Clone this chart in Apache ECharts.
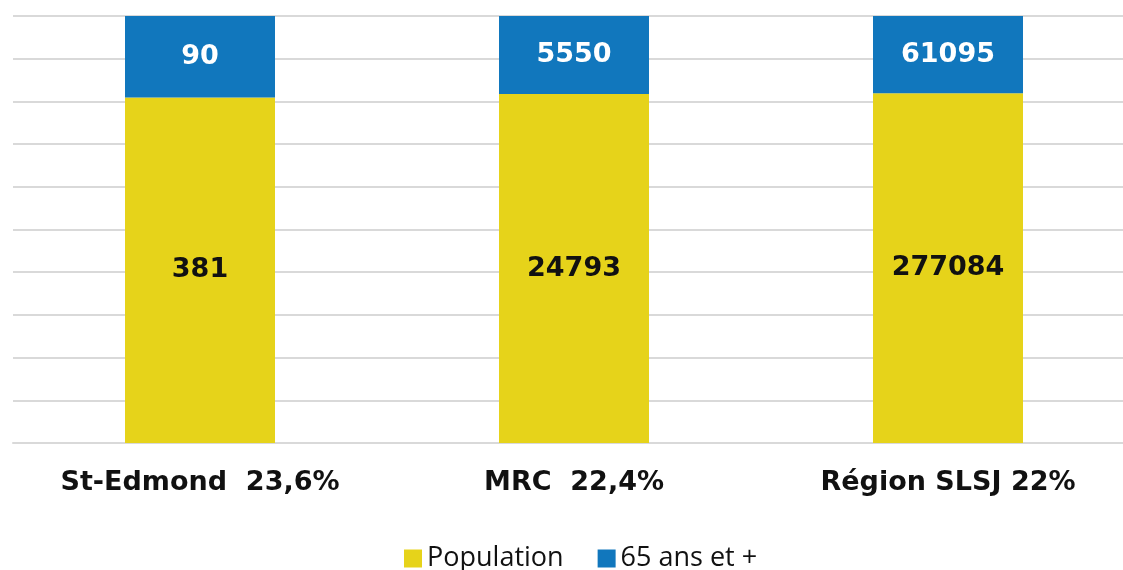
<!DOCTYPE html>
<html>
<head>
<meta charset="utf-8">
<script src="https://cdn.jsdelivr.net/npm/echarts@6/dist/echarts.min.js"></script>
<style>
  html, body { margin: 0; padding: 0; background: #fff; }
  #graph { width: 1123px; height: 570px; }
</style>
</head>
<body>
<div id="graph"></div>
<script>
const categories = ["St-Edmond  23,6%", "MRC  22,4%", "Région SLSJ 22%"];
const population = [381, 24793, 277084];
const aines = [90, 5550, 61095];

// share of each bar in percent, labels keep the raw counts
function share(part, i) {
    return part[i] / (population[i] + aines[i]) * 100;
}

function createOptions() {
    const labelFont = "'DejaVu Sans', Inter, sans-serif";
    return {
        animation: false,
        legend: {
            data: ["Population", "65 ans et +"],
            left: 399,
            top: 540,
            itemWidth: 18,
            itemHeight: 18,
            itemGap: 34,
            icon: 'rect',
            textStyle: { fontFamily: "'Open Sans', sans-serif", fontSize: 27, color: '#111' }
        },
        grid: {
            outerBoundsMode: 'none',
            left: 13,
            top: 16,
            width: 1122,
            height: 427
        },
        xAxis: {
            type: 'category',
            data: categories,
            axisTick: { show: false },
            axisLine: { lineStyle: { color: '#d9d9d9', width: 2 } },
            axisLabel: {
                margin: 26,
                fontFamily: labelFont,
                fontWeight: 'bold',
                fontSize: 27,
                color: '#111'
            }
        },
        yAxis: {
            type: 'value',
            min: 0,
            max: 100,
            interval: 10,
            axisLabel: { show: false },
            axisLine: { show: false },
            axisTick: { show: false },
            splitLine: { lineStyle: { color: '#d9d9d9', width: 2 } }
        },
        series: [
            {
                name: "Population",
                type: 'bar',
                stack: 'total',
                barWidth: 150,
                itemStyle: { color: '#E6D31A' },
                label: {
                    show: true,
                    position: 'inside',
                    formatter: (p) => population[p.dataIndex],
                    fontFamily: labelFont,
                    fontWeight: 'bold',
                    fontSize: 27,
                    color: '#111'
                },
                data: population.map((v, i) => share(population, i))
            },
            {
                name: "65 ans et +",
                type: 'bar',
                stack: 'total',
                barWidth: 150,
                itemStyle: { color: '#1177BD' },
                label: {
                    show: true,
                    position: 'inside',
                    formatter: (p) => aines[p.dataIndex],
                    fontFamily: labelFont,
                    fontWeight: 'bold',
                    fontSize: 27,
                    color: '#fff'
                },
                data: aines.map((v, i) => share(aines, i))
            }
        ]
    };
}

const chart = echarts.init(document.getElementById('graph'));
chart.setOption(createOptions());
</script>
</body>
</html>
